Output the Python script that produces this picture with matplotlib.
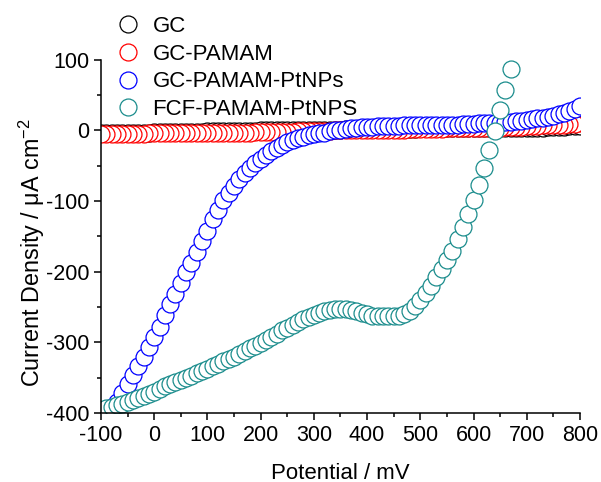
import numpy as np
import matplotlib.pyplot as plt
from matplotlib.ticker import MultipleLocator

plt.rcParams['font.family'] = ['Liberation Sans', 'DejaVu Sans']
plt.rcParams['axes.unicode_minus'] = False
plt.rcParams['mathtext.fontset'] = 'custom'
plt.rcParams['mathtext.rm'] = 'Liberation Sans'
plt.rcParams['mathtext.default'] = 'regular'

# potential axis (mV)
potential = np.arange(-100, 801, 10)

# GC and GC-PAMAM stay close to zero over the whole window
gc_j = [-3, -3, -3, -3, -3, -3, -3, -3, -3, -3,
        -2, -2, -2, -2, -2, -2, -2, -2, -2, -2,
        -1, -1, -1, -1, -1, -1, -1, -1, -1, -1,
        0, 0, 0, 0, 0, 0, 0, 0, 1, 1,
        1, 1, 1, 1, 1, 1, 2, 2, 2, 2,
        2, 2, 2, 2, 2, 2, 2, 2, 2, 2,
        3, 3, 3, 3, 3, 3, 3, 3, 3, 3,
        3, 3, 3, 3, 3, 3, 4, 4, 4, 4,
        4, 4, 4, 4, 5, 5, 5, 5, 6, 6, 6]
pamam_j = [-5, -5, -5, -5, -5, -5, -5, -5, -5, -4,
           -4, -4, -4, -4, -4, -4, -4, -4, -4, -3,
           -3, -3, -3, -3, -3, -3, -3, -3, -3, -2,
           -2, -2, -2, -2, -2, -2, -2, -1, -1, -1,
           -1, -1, -1, -1, 0, 0, 0, 0, 0, 0,
           0, 1, 1, 1, 1, 1, 1, 1, 2, 2,
           2, 2, 2, 2, 2, 3, 3, 3, 3, 3,
           3, 4, 4, 4, 4, 4, 5, 5, 5, 5,
           6, 6, 6, 7, 7, 7, 8, 8, 9, 9, 10]
ptnp_j = [-420, -406, -392, -384, -372, -359, -346, -334, -321, -307,
          -293, -278, -261, -246, -231, -216, -201, -187, -172, -157,
          -142, -126, -112, -99, -88, -78, -69, -60, -53, -46,
          -40, -35, -29, -25, -21, -17, -14, -11, -9, -7,
          -5, -4, -3, -1, 0, 1, 2, 3, 4, 5,
          5, 5, 6, 6, 6, 6, 6, 7, 7, 7,
          7, 7, 7, 7, 8, 8, 8, 8, 9, 9,
          9, 10, 10, 10, 11, 11, 12, 12, 13, 14,
          15, 16, 17, 18, 19, 21, 23, 25, 27, 30, 34]

# FCF-PAMAM-PtNPs, recorded up to 670 mV
fcf_potential = np.arange(-100, 671, 10)
fcf_j = [-395, -393, -391, -389, -387, -384, -382, -379, -376, -373,
         -370, -366, -362, -359, -356, -353, -350, -347, -343, -340,
         -337, -333, -330, -327, -323, -320, -316, -312, -308, -305,
         -301, -297, -292, -288, -283, -279, -275, -271, -267, -264,
         -261, -258, -256, -254, -253, -253, -253, -254, -256, -258,
         -260, -262, -263, -263, -263, -262, -262, -260, -255, -248,
         -240, -230, -220, -208, -196, -184, -170, -153, -136, -118,
         -99, -77, -53, -27, -1, 29, 57, 87]

labels = ['GC', 'GC-PAMAM', 'GC-PAMAM-PtNPs', 'FCF-PAMAM-PtNPS']
colors = ['black', '#ff0000', '#0000ff', '#1a8c8c']

fig = plt.figure(figsize=(6.01, 4.82), dpi=100)
ax = fig.add_axes([0.168, 0.143, 0.797, 0.733])

mk = dict(ls='none', marker='o', ms=12.2, mfc='white', mew=0.9)
ax.plot(potential, gc_j, mec=colors[0], label=labels[0], **mk)
# the GC-PAMAM scan runs from positive to negative potential
ax.plot(potential[::-1], pamam_j[::-1], mec=colors[1], label=labels[1], **mk)
ax.plot(potential, ptnp_j, mec=colors[2], label=labels[2], **mk)
ax.plot(fcf_potential, fcf_j, mec=colors[3], label=labels[3], **mk)

ax.set_xlim(-100, 800)
ax.set_ylim(-400, 100)
ax.xaxis.set_major_locator(MultipleLocator(100))
ax.xaxis.set_minor_locator(MultipleLocator(50))
ax.yaxis.set_major_locator(MultipleLocator(100))
ax.yaxis.set_minor_locator(MultipleLocator(50))
ax.spines['top'].set_visible(False)
ax.spines['right'].set_visible(False)
for s in ('left', 'bottom'):
    ax.spines[s].set_linewidth(1.1)
ax.tick_params(which='major', direction='out', length=5, width=1.1, labelsize=15.5)
ax.tick_params(which='minor', direction='out', length=3, width=1.1)

ax.set_xlabel('Potential / mV', fontsize=16, labelpad=12)
ax.set_ylabel('Current Density / μA cm$^{-2}$', fontsize=16.8)
ax.yaxis.set_label_coords(-0.112, 0.455)

fig.legend(loc='upper left', bbox_to_anchor=(117 / 601, 1 - 16 / 482),
           frameon=False, fontsize=16, handlelength=1.0, handletextpad=0.6,
           labelspacing=0.3, borderpad=0, borderaxespad=0)

fig.savefig('out.png', dpi=100)
